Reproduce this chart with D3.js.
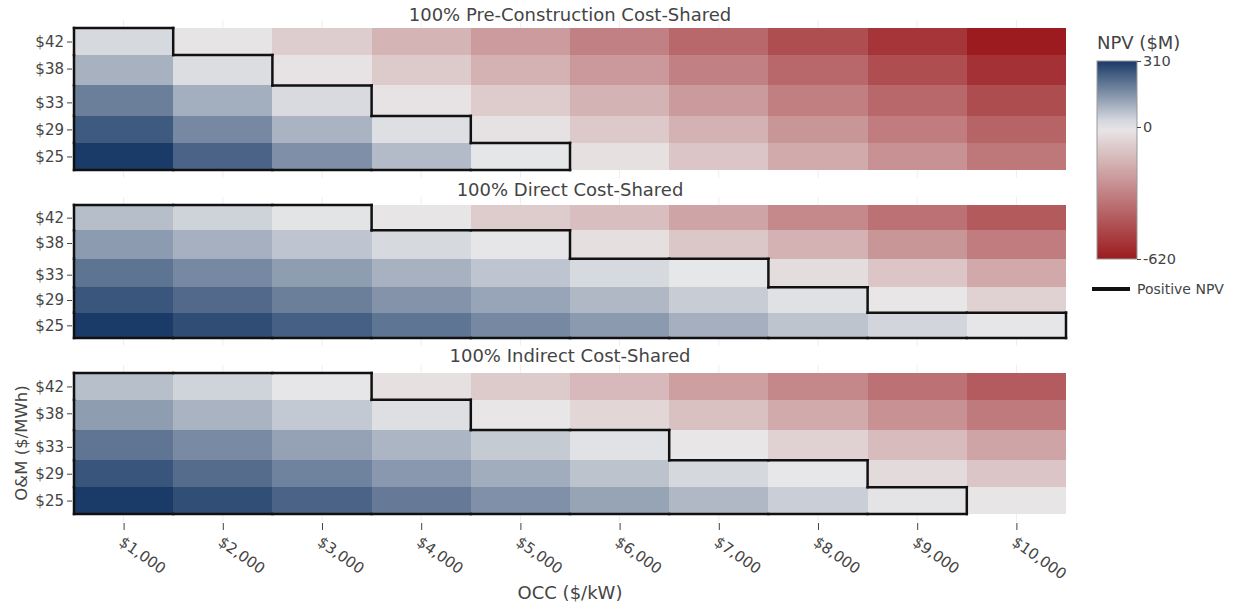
<!DOCTYPE html>
<html>
<head>
<meta charset="utf-8">
<script src="https://cdn.jsdelivr.net/npm/d3@7"></script>
<style>
  body { margin: 0; background: #fff; }
  text { font-family: "DejaVu Sans", Verdana, sans-serif; fill: #444; }
</style>
</head>
<body>
<div class="chart"></div>
<script>
var occ = [1000, 2000, 3000, 4000, 5000, 6000, 7000, 8000, 9000, 10000];
var om = [25, 29, 33, 38, 42];

var panelTitles = [
  "100% Pre-Construction Cost-Shared",
  "100% Direct Cost-Shared",
  "100% Indirect Cost-Shared"
];

// NPV ($M), one row per O&M value (25 -> 42), one column per OCC value
var npvPreConstruction = [
  [310, 238, 160, 81, 6, -27, -109, -190, -266, -341],
  [254, 172, 95, 18, -24, -97, -170, -251, -327, -400],
  [188, 105, 26, -18, -88, -163, -239, -318, -387, -469],
  [99, 21, -18, -94, -170, -242, -315, -387, -466, -553],
  [29, -15, -85, -160, -236, -315, -387, -466, -541, -620]
];

var npvDirect = [
  [310, 277, 244, 206, 172, 140, 102, 66, 35, 5],
  [260, 226, 188, 152, 122, 86, 51, 14, -8, -73],
  [208, 172, 135, 99, 63, 29, 4, -36, -109, -194],
  [138, 101, 63, 29, 5, -30, -103, -170, -251, -327],
  [77, 41, 9, -12, -88, -130, -209, -290, -360, -430]
];

var npvIndirect = [
  [310, 275, 238, 196, 158, 123, 86, 47, 8, -12],
  [262, 221, 182, 144, 108, 68, 30, 3, -45, -109],
  [205, 167, 126, 92, 54, 12, -9, -73, -136, -209],
  [135, 96, 57, 18, -8, -57, -124, -190, -263, -333],
  [75, 39, 5, -27, -94, -145, -224, -293, -360, -426]
];

var colorbarTicks = [-620, 0, 310];

var panelData = [npvPreConstruction, npvDirect, npvIndirect];

var svgWidth = 1237;
var svgHeight = 607;

var panels = [
  {top: 28, bottom: 170, titleY: 21},
  {top: 205, bottom: 338, titleY: 196},
  {top: 373, bottom: 514, titleY: 362}
];

var left = 74;
var right = 1066;

var svg = d3
  .select(".chart")
  .append("svg")
  .attr("width", svgWidth)
  .attr("height", svgHeight);

function edges(vals) {
  var e = [vals[0] - (vals[1] - vals[0]) / 2];
  for (var i = 0; i < vals.length - 1; i++) {
    e.push((vals[i] + vals[i + 1]) / 2);
  }
  e.push(vals[vals.length - 1] + (vals[vals.length - 1] - vals[vals.length - 2]) / 2);
  return e;
}

var xEdges = edges(occ);
var yEdges = edges(om);

var xScale = d3.scaleLinear()
  .domain([xEdges[0], xEdges[xEdges.length - 1]])
  .range([left, right]);

var color = d3.scaleLinear()
  .domain([-620, 0, 310])
  .range(["#9b1b1f", "#e9e9ea", "#1a3a68"]);

panels.forEach(function(p, k) {
  var data = panelData[k];
  var yScale = d3.scaleLinear()
    .domain([yEdges[0], yEdges[yEdges.length - 1]])
    .range([p.bottom, p.top]);

  var g = svg.append("g");

  // gridlines peeking out above and below the cells
  g.selectAll(".grid")
    .data(occ)
    .enter()
    .append("line")
    .attr("x1", d => xScale(d))
    .attr("x2", d => xScale(d))
    .attr("y1", p.top - 8)
    .attr("y2", p.bottom + 8)
    .attr("stroke", "#eee")
    .attr("stroke-width", 1);

  var cells = [];
  data.forEach(function(row, i) {
    row.forEach(function(v, j) {
      cells.push({i: i, j: j, v: v});
    });
  });

  g.selectAll(".cell")
    .data(cells)
    .enter()
    .append("rect")
    .attr("x", d => xScale(xEdges[d.j]))
    .attr("width", d => xScale(xEdges[d.j + 1]) - xScale(xEdges[d.j]))
    .attr("y", d => yScale(yEdges[d.i + 1]))
    .attr("height", d => yScale(yEdges[d.i]) - yScale(yEdges[d.i + 1]))
    .attr("fill", d => color(d.v))
    .attr("shape-rendering", "crispEdges");

  // outline of the positive NPV region
  function pos(i, j) {
    return i >= 0 && i < data.length && j >= 0 && j < occ.length && data[i][j] > 0;
  }
  var segs = [];
  cells.forEach(function(c) {
    if (!pos(c.i, c.j)) return;
    var x0 = xScale(xEdges[c.j]), x1 = xScale(xEdges[c.j + 1]);
    var y0 = yScale(yEdges[c.i]), y1 = yScale(yEdges[c.i + 1]);
    if (!pos(c.i + 1, c.j)) segs.push([x0, y1, x1, y1]);
    if (!pos(c.i - 1, c.j)) segs.push([x0, y0, x1, y0]);
    if (!pos(c.i, c.j - 1)) segs.push([x0, y0, x0, y1]);
    if (!pos(c.i, c.j + 1)) segs.push([x1, y0, x1, y1]);
  });

  g.selectAll(".edge")
    .data(segs)
    .enter()
    .append("line")
    .attr("x1", d => d[0])
    .attr("y1", d => d[1])
    .attr("x2", d => d[2])
    .attr("y2", d => d[3])
    .attr("stroke", "#111")
    .attr("stroke-width", 2.5)
    .attr("stroke-linecap", "square");

  var leftAxis = d3.axisLeft(yScale)
    .tickValues(om)
    .tickSize(5)
    .tickPadding(3)
    .tickFormat(d => "$" + d);

  var ya = svg.append("g")
    .attr("transform", `translate(72, 0)`)
    .call(leftAxis);
  ya.select(".domain").remove();
  ya.selectAll("line").attr("stroke", "#444");
  ya.selectAll("text").style("font-size", "15px").attr("fill", "#444");

  svg.append("text")
    .attr("x", (left + right) / 2)
    .attr("y", p.titleY)
    .attr("text-anchor", "middle")
    .style("font-size", "18px")
    .text(panelTitles[k]);
});

var bottomAxis = d3.axisBottom(xScale)
  .tickValues(occ)
  .tickSize(7)
  .tickFormat(d3.format("$,"));

var xa = svg.append("g")
  .attr("transform", `translate(0, 523)`)
  .call(bottomAxis);
xa.select(".domain").remove();
xa.selectAll("line").attr("stroke", "#444");
xa.selectAll("text")
  .attr("x", 0)
  .attr("y", 0)
  .attr("dy", "0.35em")
  .attr("text-anchor", "start")
  .attr("transform", "translate(-3, 17) rotate(35)")
  .style("font-size", "15px")
  .attr("fill", "#444");

svg.append("text")
  .attr("x", (left + right) / 2)
  .attr("y", 599)
  .attr("text-anchor", "middle")
  .style("font-size", "18px")
  .text("OCC ($/kW)");

svg.append("text")
  .attr("transform", "translate(27, 443) rotate(-90)")
  .attr("text-anchor", "middle")
  .style("font-size", "16.5px")
  .text("O&M ($/MWh)");

// colorbar
var cbX = 1097, cbW = 40, cbTop = 61, cbBottom = 259;
var cbScale = d3.scaleLinear()
  .domain([-620, 310])
  .range([cbBottom, cbTop]);

var grad = svg.append("defs")
  .append("linearGradient")
  .attr("id", "npvGrad")
  .attr("x1", 0).attr("y1", 1)
  .attr("x2", 0).attr("y2", 0);

d3.range(0, 1.0001, 0.05).forEach(function(t) {
  grad.append("stop")
    .attr("offset", t)
    .attr("stop-color", color(-620 + t * 930));
});

svg.append("rect")
  .attr("x", cbX)
  .attr("y", cbTop)
  .attr("width", cbW)
  .attr("height", cbBottom - cbTop)
  .attr("fill", "url(#npvGrad)")
  .attr("stroke", "#999")
  .attr("stroke-width", 1);

var cbAxis = d3.axisRight(cbScale)
  .tickValues(colorbarTicks)
  .tickSize(4)
  .tickPadding(2)
  .tickFormat(d => String(d));

var ca = svg.append("g")
  .attr("transform", `translate(${cbX + cbW}, 0)`)
  .call(cbAxis);
ca.select(".domain").remove();
ca.selectAll("line").attr("stroke", "#444");
ca.selectAll("text").style("font-size", "14.5px").attr("fill", "#444");

svg.append("text")
  .attr("x", cbX)
  .attr("y", 49)
  .style("font-size", "18px")
  .text("NPV ($M)");

// legend
svg.append("line")
  .attr("x1", 1092)
  .attr("x2", 1130)
  .attr("y1", 289)
  .attr("y2", 289)
  .attr("stroke", "#111")
  .attr("stroke-width", 4);

svg.append("text")
  .attr("x", 1137)
  .attr("y", 294)
  .style("font-size", "14px")
  .text("Positive NPV");
</script>
</body>
</html>
